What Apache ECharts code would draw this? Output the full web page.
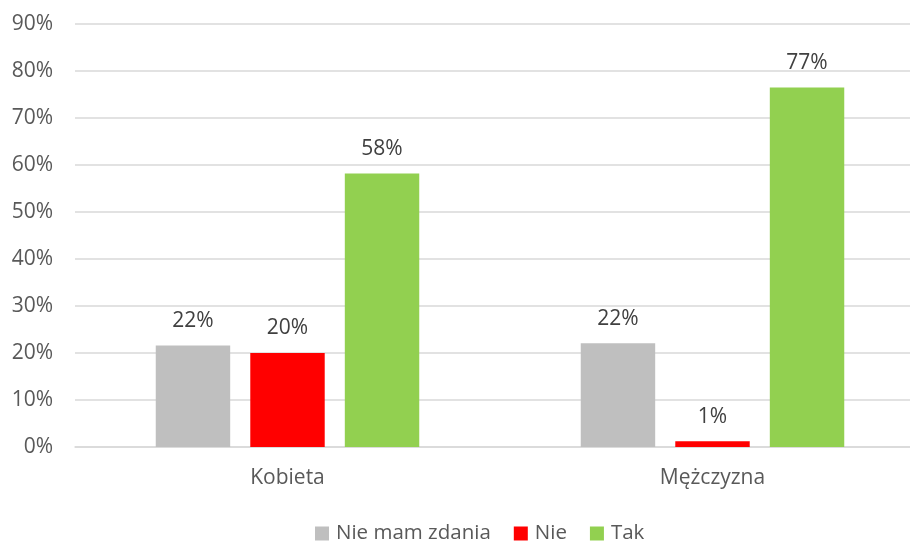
<!DOCTYPE html>
<html><head><meta charset="utf-8">
<script src="https://cdn.jsdelivr.net/npm/echarts@6/dist/echarts.min.js"></script>
<style>html,body{margin:0;padding:0;background:#fff;overflow:hidden}#c{width:925px;height:541px}</style>
</head><body><div id="c"></div>
<script>
const categories = ['Kobieta', 'Mężczyzna'];
const seriesNames = ['Nie mam zdania', 'Nie', 'Tak'];
const nieMamZdania = [21.6, 22.1];
const nie = [20.0, 1.2];
const tak = [58.2, 76.5];
const colors = ['#BFBFBF', '#FF0000', '#92D050'];
const font = '"Open Sans", "Noto Sans", sans-serif';

const chart = echarts.init(document.getElementById('c'));
const mk = (name, data, color) => ({
  name, type: 'bar', data, barGap: '27%', barCategoryGap: '38%',
  itemStyle: { color },
  label: { show: true, position: 'top', distance: 14, color: '#404040',
    fontSize: 21, fontFamily: font, formatter: p => Math.round(p.value) + '%' }
});
chart.setOption({
  animation: false,
  color: colors,
  grid: { left: 75, right: 0, top: 24, bottom: 94 },
  legend: {
    data: seriesNames, left: 310, top: 518, itemWidth: 14, itemHeight: 14, itemGap: 23,
    icon: 'rect',
    textStyle: { fontSize: 20.5, color: '#595959', fontFamily: font, padding: [0, 0, 0, 2] }
  },
  xAxis: {
    type: 'category', data: categories,
    axisLine: { lineStyle: { color: '#D9D9D9', width: 1.5 } },
    axisTick: { show: false },
    axisLabel: { fontSize: 21, color: '#595959', fontFamily: font, margin: 21 }
  },
  yAxis: {
    type: 'value', min: 0, max: 90, interval: 10,
    axisLabel: { formatter: '{value}%', fontSize: 21, color: '#595959', fontFamily: font, margin: 22 },
    splitLine: { lineStyle: { color: '#D9D9D9', width: 1.5 } },
    axisLine: { show: false }, axisTick: { show: false }
  },
  series: [mk(seriesNames[0], nieMamZdania, colors[0]), mk(seriesNames[1], nie, colors[1]), mk(seriesNames[2], tak, colors[2])]
});
</script></body></html>
